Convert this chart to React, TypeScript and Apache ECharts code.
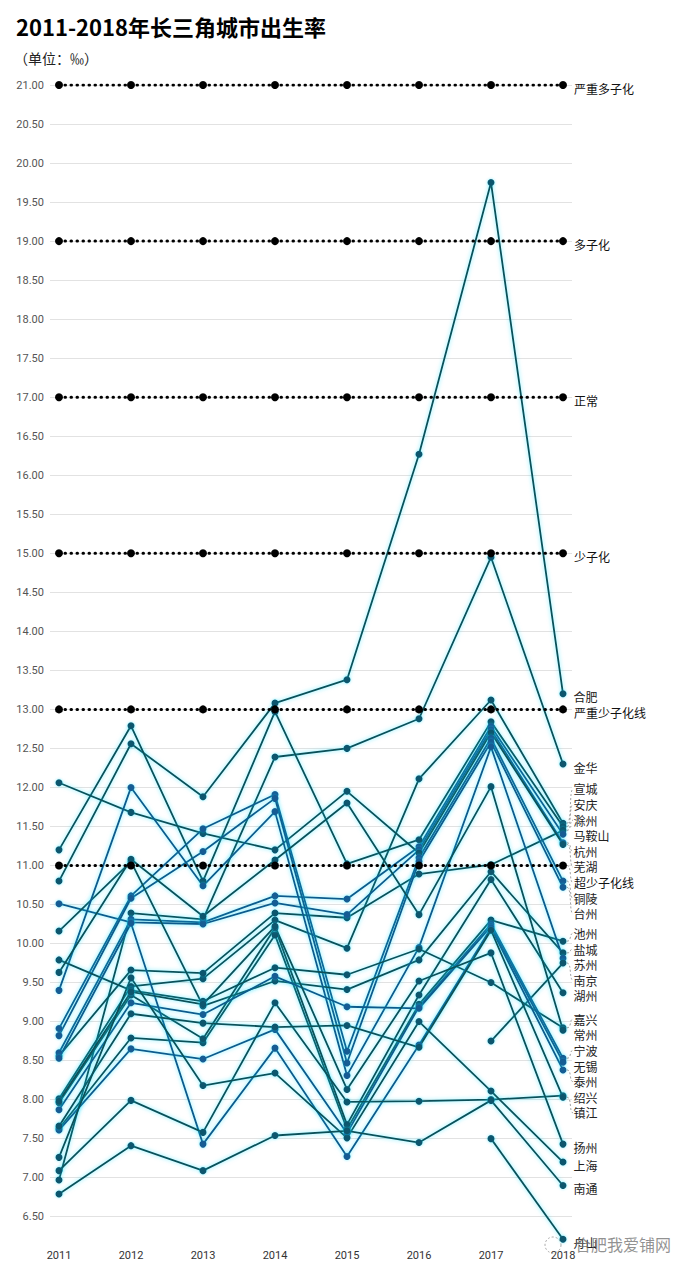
import React, { useEffect, useRef } from "react";
import * as echarts from "echarts";

const years = [2011, 2012, 2013, 2014, 2015, 2016, 2017, 2018];

const levelNames = ["严重多子化", "多子化", "正常", "少子化", "严重少子化线", "超少子化线"];
const levelValues = [21, 19, 17, 15, 13, 11];

const cityNames = [
  "合肥", "金华", "宣城", "安庆", "滁州", "马鞍山", "杭州", "芜湖", "铜陵", "台州",
  "池州", "盐城", "苏州", "南京", "湖州", "嘉兴", "常州", "宁波", "无锡", "泰州",
  "绍兴", "镇江", "扬州", "上海", "南通", "舟山",
];

const hefei = [10.8, 12.56, 11.88, 13.08, 13.38, 16.27, 19.75, 13.2];
const jinhua = [6.97, 10.39, 10.31, 12.39, 12.5, 12.88, 14.95, 12.3];
const xuancheng = [8.01, 9.45, 9.55, 10.3, 9.94, 12.11, 13.12, 11.54];
const anqing = [11.2, 12.79, 10.8, 12.97, 11.02, 11.33, 12.84, 11.5];
const chuzhou = [8.56, 9.66, 9.62, 10.39, 10.33, 10.89, 11.01, 11.45];
const maanshan = [8.6, 10.31, 10.27, 10.61, 10.57, 11.24, 12.78, 11.4];
const hangzhou = [10.51, 10.27, 10.25, 10.52, 10.37, 11.2, 12.74, 11.29];
const wuhu = [12.06, 11.68, 11.41, 11.2, 11.95, 11.16, 12.7, 11.27];
const tongling = [8.91, 10.61, 11.47, 11.91, 8.62, 11.1, 12.63, 10.8];
const taizhouZj = [8.82, 10.58, 11.18, 11.86, 8.47, 11.05, 12.58, 10.72];
const chizhou = [7.63, 8.79, 8.73, 10.11, 7.62, 9.22, 10.3, 10.03];
const yancheng = [10.16, 11.05, 9.2, 9.52, 9.41, 9.79, 10.92, 9.88];
const suzhou = [9.4, 12.0, 10.74, 11.69, 8.31, 9.95, 12.52, 9.81];
const nanjing = [null, null, null, null, null, null, 8.75, 9.75];
const huzhou = [7.96, 9.34, 8.78, 10.2, 7.68, 9.34, 10.82, 9.37];
const jiaxing = [9.79, 9.4, 9.26, 9.69, 9.6, 9.93, 9.5, 8.92];
const changzhou = [9.63, 11.08, 10.35, 11.07, 11.8, 10.37, 12.01, 8.89];
const ningbo = [7.61, 8.65, 8.52, 8.9, 7.57, 9.19, 10.25, 8.53];
const wuxi = [7.87, 9.24, 9.09, 9.58, 9.19, 9.17, 10.22, 8.48];
const taizhouJs = [8.53, 10.26, 7.43, 8.66, 7.27, 8.7, 10.2, 8.38];
const shaoxing = [7.09, 7.99, 7.58, 9.24, 7.97, 7.98, 8.0, 8.05];
const zhenjiang = [7.66, 9.1, 8.98, 8.93, 8.95, 8.67, 10.17, 8.03];
const yangzhou = [7.98, 9.38, 9.22, 10.22, 8.13, 9.52, 9.88, 7.43];
const shanghai = [7.26, 9.56, 8.18, 8.34, 7.51, 9.0, 8.11, 7.2];
const nantong = [6.79, 7.41, 7.09, 7.54, 7.6, 7.45, 7.99, 6.9];
const zhoushan = [null, null, null, null, null, null, 7.5, 6.21];

const cityValues = [
  hefei, jinhua, xuancheng, anqing, chuzhou, maanshan, hangzhou, wuhu, tongling, taizhouZj,
  chizhou, yancheng, suzhou, nanjing, huzhou, jiaxing, changzhou, ningbo, wuxi, taizhouJs,
  shaoxing, zhenjiang, yangzhou, shanghai, nantong, zhoushan,
];

const blueCities = ["马鞍山", "铜陵", "台州", "宁波", "无锡", "泰州", "杭州", "苏州"];

const FONT = "'Noto Sans CJK SC', 'Noto Sans', sans-serif";
const NUMFONT = "Roboto, 'Noto Sans', sans-serif";

function points(vals: (number | null)[]) {
  const pts: number[][] = [];
  vals.forEach((v, i) => {
    if (v !== null && v !== undefined) pts.push([years[i], v]);
  });
  return pts;
}

function spread(targets: number[], gap: number): number[] {
  const order = targets.map((_, i) => i).sort((a, b) => targets[a] - targets[b]);
  const clusters = order.map((i) => ({ idx: [i], sum: targets[i] }));
  const start = (c: { idx: number[]; sum: number }) =>
    c.sum / c.idx.length - ((c.idx.length - 1) * gap) / 2;
  let merged = true;
  while (merged) {
    merged = false;
    for (let k = 1; k < clusters.length; k++) {
      const a = clusters[k - 1];
      const b = clusters[k];
      if (start(a) + a.idx.length * gap > start(b)) {
        a.idx.push(...b.idx);
        a.sum += b.sum;
        clusters.splice(k, 1);
        merged = true;
        break;
      }
    }
  }
  const out: number[] = new Array(targets.length);
  clusters.forEach((c) => {
    const s = start(c);
    c.idx.forEach((i, j) => (out[i] = s + j * gap));
  });
  return out;
}

function buildOption(offsets: Record<string, number>, guides: any[]) {
  const labelCommon = {
    position: "right",
    distance: 7,
    fontSize: 12,
    color: "#222",
    fontFamily: FONT,
  };

  const withLabel = (pts: number[][], name: string) =>
    pts.map((p, i) =>
      i === pts.length - 1
        ? { value: p, label: { show: true, offset: [0, offsets[name] || 0] } }
        : p
    );

  const citySeries = cityNames.map((name, idx) => {
    const blue = blueCities.includes(name);
    const lineColor = blue ? "#115a8c" : "#0a5058";
    const symColor = blue ? "#175c94" : "#10566e";
    return {
      type: "line",
      name,
      data: withLabel(points(cityValues[idx]), name),
      symbol: "circle",
      symbolSize: 7,
      showSymbol: true,
      z: 2,
      lineStyle: {
        color: lineColor,
        width: 1.8,
        shadowColor: "rgba(0, 220, 255, 0.55)",
        shadowBlur: 4,
      },
      itemStyle: {
        color: symColor,
        shadowColor: "rgba(0, 220, 255, 0.45)",
        shadowBlur: 3,
      },
      label: { ...labelCommon, show: false, formatter: name },
      emphasis: { disabled: true },
    };
  });

  const levelSeries = levelNames.map((name, idx) => ({
    type: "line",
    name,
    data: withLabel(points(years.map(() => levelValues[idx])), name),
    symbol: "circle",
    symbolSize: 8,
    z: 3,
    lineStyle: { color: "#000", width: 3, type: [0.5, 5.5], cap: "round" },
    itemStyle: { color: "#000" },
    label: { ...labelCommon, show: false, formatter: name, color: "#111" },
    emphasis: { disabled: true },
  }));

  return {
    animation: false,
    backgroundColor: "#fff",
    title: [
      {
        text: "2011-2018年长三角城市出生率",
        left: 11,
        top: 10,
        textStyle: { fontSize: 22, fontWeight: "bold", color: "#000", fontFamily: FONT },
      },
      {
        text: "（单位：‰）",
        left: 9,
        top: 46,
        textStyle: { fontSize: 14, fontWeight: "normal", color: "#222", fontFamily: FONT },
      },
    ],
    grid: { left: 50, right: 124, top: 85, bottom: 31 },
    xAxis: {
      type: "value",
      min: 2010.875,
      max: 2018.125,
      minInterval: 1,
      maxInterval: 1,
      axisLine: { show: false },
      axisTick: { show: false },
      splitLine: { show: false },
      axisLabel: {
        showMinLabel: false,
        showMaxLabel: false,
        margin: 6,
        fontSize: 11,
        color: "#333",
        fontFamily: NUMFONT,
        formatter: (v: number) => String(v),
      },
    },
    yAxis: {
      type: "value",
      min: 6.15,
      max: 21,
      minInterval: 0.5,
      maxInterval: 0.5,
      axisLine: { show: false },
      axisTick: { show: false },
      splitLine: { show: true, showMinLine: false, lineStyle: { color: "#e2e2e2", width: 1 } },
      axisLabel: {
        showMinLabel: false,
        margin: 6,
        fontSize: 11,
        color: "#555",
        fontFamily: NUMFONT,
        formatter: (v: number) => v.toFixed(2),
      },
    },
    series: [...citySeries, ...levelSeries],
    graphic: [
      {
        type: "circle",
        shape: { cx: 553, cy: 1245, r: 8 },
        style: { fill: "none", stroke: "rgba(130,130,130,0.7)", lineWidth: 1, lineDash: [2, 2] },
        z: 100,
      },
      {
        type: "text",
        x: 575,
        y: 1236,
        style: {
          text: "合肥我爱铺网",
          fontSize: 16,
          fill: "rgba(110,110,110,0.75)",
          fontFamily: FONT,
        },
        z: 100,
      },
      ...guides,
    ],
  };
}

export default function App() {
  const ref = useRef<HTMLDivElement>(null);

  useEffect(() => {
    if (!ref.current) return;
    const chart = echarts.init(ref.current, undefined, { renderer: "svg" });
    chart.setOption(buildOption({}, []) as any);

    const entries = [
      ...cityNames.map((name, i) => {
        const pts = points(cityValues[i]);
        return { name, pt: pts[pts.length - 1] };
      }),
      ...levelNames.map((name, i) => ({ name, pt: [years[years.length - 1], levelValues[i]] })),
    ];
    const pix = entries.map((e) => chart.convertToPixel({ gridIndex: 0 }, e.pt) as number[]);
    const targets = pix.map((p) => p[1] + 3);
    const laid = spread(targets, 15.6);

    const offsets: Record<string, number> = {};
    const guides: any[] = [];
    entries.forEach((e, i) => {
      const [px, py] = pix[i];
      const ly = laid[i];
      offsets[e.name] = ly - py;
      if (Math.abs(ly - targets[i]) > 4) {
        guides.push({
          type: "bezierCurve",
          shape: {
            x1: px + 4,
            y1: py,
            cpx1: px + 9,
            cpy1: py,
            cpx2: px + 6,
            cpy2: ly,
            x2: px + 10,
            y2: ly,
          },
          style: { stroke: "#8a8a8a", lineWidth: 0.8, lineDash: [2, 2], fill: "none" },
          z: 50,
        });
      }
    });

    chart.setOption(buildOption(offsets, guides) as any, { notMerge: true });

    return () => chart.dispose();
  }, []);

  return (
    <div
      ref={ref}
      style={{ position: "fixed", left: 0, top: 0, width: 696, height: 1275, background: "#fff" }}
    />
  );
}
